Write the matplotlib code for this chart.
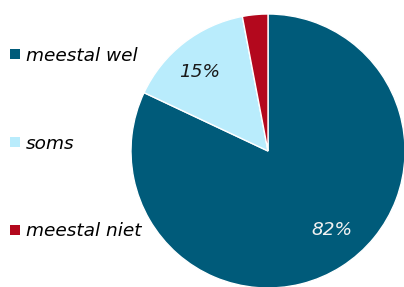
import matplotlib
matplotlib.use("Agg")
import matplotlib.pyplot as plt
from matplotlib.patches import Patch

# data
labels = ["meestal wel", "soms", "meestal niet"]
values = [82, 15, 3]
colors = ["#005b7a", "#b9ecfc", "#b3081d"]

plt.rcParams['font.family'] = ['DejaVu Sans']

fig = plt.figure(figsize=(4.04, 2.87), dpi=100)
ax = fig.add_axes([131 / 404, -1 / 287, 274 / 404, 274 / 287])

def pct(p):
    return f"{p:.0f}%" if p >= 5 else ""

wedges, texts, autotexts = ax.pie(values, colors=colors, startangle=90, counterclock=False,
                                  autopct=pct, pctdistance=0.75,
                                  wedgeprops=dict(edgecolor="white", linewidth=1))
autotexts[0].set_color("#f2f2f2")
autotexts[0].set_position((0.47, -0.58))
autotexts[1].set_color("#1a1a1a")
autotexts[1].set_position((-0.50, 0.58))
for t in autotexts:
    t.set_fontsize(13.3)
    t.set_fontstyle("italic")
ax.set_xlim(-1, 1)
ax.set_ylim(-1, 1)
ax.set_aspect("equal")

handles = [Patch(facecolor=c, edgecolor="none") for c in colors]
fig.legend(handles, labels, loc="upper left", bbox_to_anchor=(0.0075, 0.863), frameon=False,
           prop=dict(size=13.3, style="italic"), labelspacing=3.78, handlelength=0.5,
           handleheight=0.5, handletextpad=0.35, borderaxespad=0.0)

fig.savefig("out.png", dpi=100)
